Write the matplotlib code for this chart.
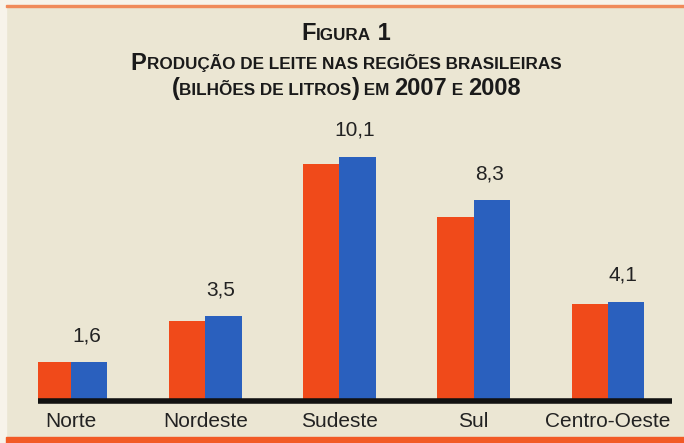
import numpy as np
import matplotlib
matplotlib.use("Agg")
import matplotlib.pyplot as plt
from matplotlib.offsetbox import TextArea, HPacker, VPacker, AnchoredOffsetbox

regioes = ["Norte", "Nordeste", "Sudeste", "Sul", "Centro-Oeste"]
prod_2007 = [1.6, 3.3, 9.8, 7.6, 4.0]
prod_2008 = [1.6, 3.5, 10.1, 8.3, 4.1]
rotulos_2008 = ["1,6", "3,5", "10,1", "8,3", "4,1"]

bg = "#ebe6d3"
laranja = "#f04a1a"
azul = "#2a60be"

fig = plt.figure(figsize=(6.84, 4.43), dpi=100)
fig.patch.set_facecolor(bg)

# frame details of the scanned page
fig.add_artist(plt.Rectangle((0, 438 / 443), 1, 5 / 443, transform=fig.transFigure,
                             color="#f7f3ea", zorder=0))
fig.add_artist(plt.Rectangle((0, 0), 6 / 684, 1, transform=fig.transFigure,
                             color="#f7f3ea", zorder=0))
fig.add_artist(plt.Rectangle((6 / 684, 436.5 / 443), 1, 1.5 / 443, transform=fig.transFigure,
                             color="#f08a5a", zorder=1))
fig.add_artist(plt.Rectangle((6 / 684, 0), 1, 6 / 443, transform=fig.transFigure,
                             color="#f25a26", zorder=1))

ax = fig.add_axes([38 / 684, 42 / 443, 634 / 684, 291 / 443])
ax.set_facecolor("none")

x = np.arange(len(regioes))
w = 0.27
ax.bar(x - w / 2, prod_2007, w, color=laranja, zorder=2)
ax.bar(x + w / 2, prod_2008, w, color=azul, zorder=2)

for xi, v, lab in zip(x, prod_2008, rotulos_2008):
    ax.text(xi + w / 2 - 0.02, v + 0.7, lab, ha="center", va="bottom", fontsize=15,
            family="Liberation Sans", color="#222222")

ax.set_xlim(-0.246, 4.477)
ax.set_ylim(0, 12.04)
ax.set_yticks([])
ax.set_xticks(x)
ax.set_xticklabels(regioes, fontsize=15, family="Liberation Sans", color="#222222")
ax.tick_params(axis="x", length=0, pad=8)
for s in ["top", "right", "left"]:
    ax.spines[s].set_visible(False)
ax.spines["bottom"].set_linewidth(4)
ax.spines["bottom"].set_color("#111111")
ax.spines["bottom"].set_capstyle("butt")
ax.spines["bottom"].set_zorder(3)

# title in small caps, built from pieces
fam = "Liberation Sans"
big, small = 17, 12.3


def linha(partes):
    boxes = []
    for txt, size in partes:
        boxes.append(TextArea(txt, textprops=dict(fontsize=size, family=fam,
                                                  fontweight="bold", color="#1a1a1a")))
    return HPacker(children=boxes, align="baseline", pad=0, sep=0)


l1 = linha([("F", big), ("IGURA", small), (" 1", big)])
l2 = linha([("P", big), ("RODUÇÃO DE LEITE NAS REGIÕES BRASILEIRAS", small)])
l3 = linha([("(", big), ("BILHÕES DE LITROS", small), (")", big), (" EM ", small),
            ("2007", big), (" E ", small), ("2008", big)])
baixo = VPacker(children=[l2, l3], align="center", pad=0, sep=2)
titulo = VPacker(children=[l1, baixo], align="center", pad=0, sep=5)
anch = AnchoredOffsetbox(loc="upper center", child=titulo, frameon=False,
                         bbox_to_anchor=(346 / 684, 1 - 16 / 443),
                         bbox_transform=fig.transFigure, borderpad=0)
fig.add_artist(anch)

fig.savefig("out.png", dpi=100, facecolor=fig.get_facecolor())
